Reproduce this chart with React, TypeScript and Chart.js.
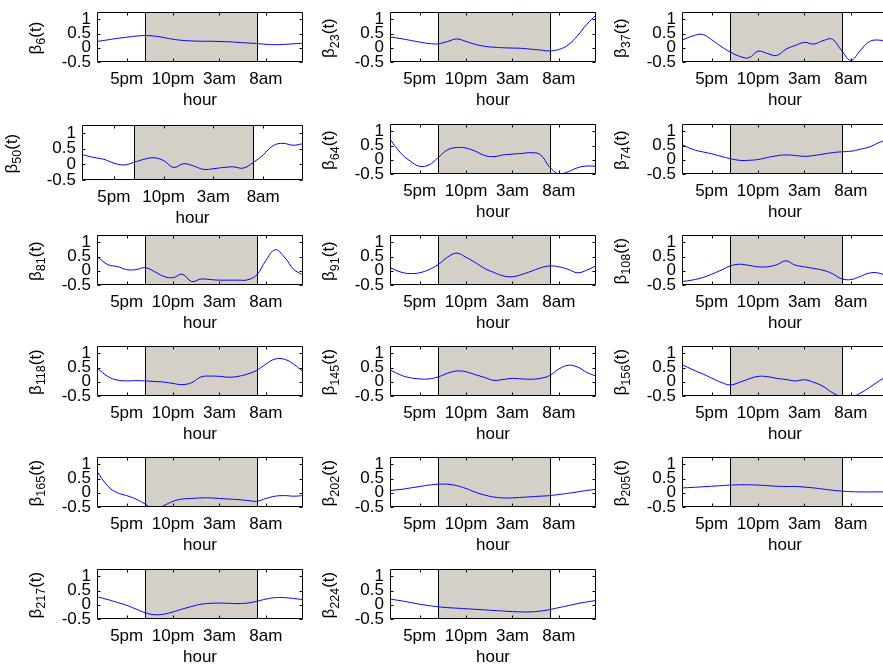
import React, { useEffect, useRef } from 'react';
import { Chart, registerables } from 'chart.js';

Chart.register(...registerables);

// ---------- data ----------
const HOURS = [13.8, 15, 16, 17, 18, 19, 20, 21, 22, 23, 24, 25, 26, 27, 28, 29, 30, 31, 32, 33, 34, 35, 36];
const X_TICKS = [17, 22, 27, 32];
const X_TICK_LABELS = ['5pm', '10pm', '3am', '8am'];
const Y_TICKS = [-0.5, 0, 0.5, 1];
const NIGHT = [19, 31];
const X_TITLE = 'hour';
const Y_SYMBOL = 'β';
const Y_ARG = '(t)';

const B6 = [0.22, 0.28, 0.33, 0.37, 0.41, 0.43, 0.41, 0.36, 0.30, 0.26, 0.24, 0.23, 0.23, 0.22, 0.21, 0.19, 0.17, 0.15, 0.12, 0.11, 0.12, 0.14, 0.16];
const B23 = [0.38, 0.32, 0.26, 0.20, 0.15, 0.14, 0.22, 0.31, 0.22, 0.12, 0.05, 0.02, 0.0, -0.01, -0.02, -0.05, -0.08, -0.11, -0.06, 0.10, 0.42, 0.82, 1.15];
const B37 = [0.27, 0.42, 0.47, 0.28, 0.05, -0.15, -0.30, -0.35, -0.12, -0.20, -0.27, -0.05, 0.08, 0.19, 0.13, 0.25, 0.30, -0.10, -0.44, -0.10, 0.22, 0.27, 0.20];
const B50 = [0.31, 0.22, 0.16, 0.04, -0.02, 0.06, 0.16, 0.21, 0.12, -0.10, 0.02, -0.05, -0.16, -0.14, -0.10, -0.08, -0.12, 0.06, 0.30, 0.60, 0.67, 0.61, 0.66];
const B64 = [0.72, 0.22, -0.05, -0.23, -0.18, 0.08, 0.35, 0.43, 0.41, 0.30, 0.15, 0.11, 0.17, 0.20, 0.22, 0.25, 0.18, -0.25, -0.50, -0.42, -0.28, -0.22, -0.23];
const B74 = [0.53, 0.36, 0.28, 0.21, 0.12, 0.04, -0.02, -0.02, 0.01, 0.08, 0.14, 0.17, 0.15, 0.12, 0.15, 0.20, 0.25, 0.28, 0.30, 0.37, 0.45, 0.60, 0.72];
const B81 = [0.50, 0.21, 0.15, 0.04, 0.04, 0.11, -0.03, -0.20, -0.24, -0.12, -0.38, -0.29, -0.31, -0.33, -0.33, -0.33, -0.32, -0.15, 0.36, 0.74, 0.48, 0.05, -0.15];
const B91 = [0.11, -0.05, -0.10, -0.07, 0.04, 0.22, 0.48, 0.62, 0.47, 0.29, 0.08, -0.06, -0.18, -0.21, -0.13, -0.02, 0.10, 0.17, 0.14, 0.05, -0.07, 0.02, 0.18];
const B108 = [-0.38, -0.32, -0.24, -0.12, 0.02, 0.17, 0.23, 0.19, 0.14, 0.14, 0.21, 0.35, 0.20, 0.14, 0.08, 0.02, -0.10, -0.28, -0.31, -0.20, -0.08, -0.08, -0.22];
const B118 = [0.48, 0.18, 0.06, 0.03, 0.04, 0.03, 0.01, -0.01, -0.06, -0.10, -0.03, 0.17, 0.20, 0.19, 0.16, 0.19, 0.27, 0.40, 0.62, 0.80, 0.79, 0.62, 0.35];
const B145 = [0.42, 0.23, 0.14, 0.10, 0.10, 0.17, 0.30, 0.38, 0.35, 0.25, 0.15, 0.05, 0.08, 0.12, 0.10, 0.09, 0.12, 0.22, 0.45, 0.58, 0.52, 0.33, 0.20];
const B156 = [0.60, 0.42, 0.28, 0.13, -0.02, -0.11, -0.02, 0.10, 0.19, 0.18, 0.12, 0.08, 0.03, 0.07, -0.02, -0.16, -0.38, -0.52, -0.54, -0.40, -0.20, 0.02, 0.22];
const B165 = [0.75, 0.22, 0.0, -0.10, -0.22, -0.40, -0.58, -0.45, -0.30, -0.22, -0.20, -0.18, -0.18, -0.20, -0.22, -0.24, -0.27, -0.30, -0.20, -0.12, -0.10, -0.12, -0.10];
const B202 = [0.08, 0.12, 0.17, 0.22, 0.27, 0.30, 0.30, 0.25, 0.15, 0.02, -0.08, -0.15, -0.18, -0.18, -0.16, -0.14, -0.12, -0.10, -0.06, -0.02, 0.03, 0.08, 0.12];
const B205 = [0.17, 0.19, 0.21, 0.23, 0.25, 0.27, 0.28, 0.28, 0.27, 0.25, 0.23, 0.22, 0.22, 0.20, 0.17, 0.13, 0.09, 0.06, 0.04, 0.03, 0.03, 0.03, 0.03];
const B217 = [0.28, 0.18, 0.08, -0.02, -0.15, -0.28, -0.35, -0.33, -0.25, -0.15, -0.06, 0.02, 0.05, 0.06, 0.05, 0.04, 0.06, 0.12, 0.20, 0.25, 0.25, 0.22, 0.18];
const B224 = [0.20, 0.14, 0.08, 0.02, -0.03, -0.07, -0.10, -0.12, -0.14, -0.16, -0.18, -0.20, -0.22, -0.24, -0.25, -0.25, -0.22, -0.17, -0.10, -0.03, 0.04, 0.10, 0.15];

const PANELS = [
  { sub: '6', values: B6, row: 0, col: 0 },
  { sub: '23', values: B23, row: 0, col: 1 },
  { sub: '37', values: B37, row: 0, col: 2 },
  { sub: '50', values: B50, row: 1, col: 0, special: true },
  { sub: '64', values: B64, row: 1, col: 1 },
  { sub: '74', values: B74, row: 1, col: 2 },
  { sub: '81', values: B81, row: 2, col: 0 },
  { sub: '91', values: B91, row: 2, col: 1 },
  { sub: '108', values: B108, row: 2, col: 2 },
  { sub: '118', values: B118, row: 3, col: 0 },
  { sub: '145', values: B145, row: 3, col: 1 },
  { sub: '156', values: B156, row: 3, col: 2 },
  { sub: '165', values: B165, row: 4, col: 0 },
  { sub: '202', values: B202, row: 4, col: 1 },
  { sub: '205', values: B205, row: 4, col: 2 },
  { sub: '217', values: B217, row: 5, col: 0 },
  { sub: '224', values: B224, row: 5, col: 1 },
];

// ---------- layout ----------
const FONT = "'Liberation Sans', Arial, 'DejaVu Sans', sans-serif";
const FONT_SIZE = 17;
const SUB_SIZE = 12.5;
const SUB_SHIFT = 6;
const COL_LEFT = [97, 390, 682];
const COL_CANVAS_LEFT = [0, 305, 598];
const COL_LABEL_X = [36, 329.5, 621];
const ROW_TOP = [10, 122, 233, 344, 455, 567];
const PLOT_W = 206;
const PLOT_H = 52;
const SPECIAL = { left: 82, top: 123, w: 221, h: 57, labelX: 12, canvasLeft: 0 };
const TOP_PAD = 14;
const RIGHT_PAD = 6;
const BOTTOM_PAD = 50;

const matlabAxes = {
  id: 'matlabAxes',
  beforeDatasetsDraw(chart: any) {
    const { ctx, chartArea: a, scales } = chart;
    const x = scales.x;
    const x0 = Math.round(x.getPixelForValue(NIGHT[0])) + 0.5;
    const x1 = Math.round(x.getPixelForValue(NIGHT[1])) + 0.5;
    ctx.save();
    ctx.fillStyle = '#d4d0c8';
    ctx.fillRect(x0, a.top, x1 - x0, a.bottom - a.top);
    ctx.strokeStyle = '#000';
    ctx.lineWidth = 1;
    ctx.beginPath();
    ctx.moveTo(x0, a.top);
    ctx.lineTo(x0, a.bottom);
    ctx.moveTo(x1, a.top);
    ctx.lineTo(x1, a.bottom);
    ctx.stroke();
    ctx.restore();
  },
  afterDatasetsDraw(chart: any) {
    const { ctx, chartArea: a, scales } = chart;
    const l = Math.round(a.left) + 0.5;
    const t = Math.round(a.top) + 0.5;
    const r = Math.round(a.right) - 0.5;
    const b = Math.round(a.bottom) - 0.5;
    const tl = 3;
    ctx.save();
    ctx.strokeStyle = '#000';
    ctx.lineWidth = 1;
    ctx.beginPath();
    ctx.rect(l, t, r - l, b - t);
    X_TICKS.forEach((v) => {
      const px = Math.round(scales.x.getPixelForValue(v)) + 0.5;
      ctx.moveTo(px, b);
      ctx.lineTo(px, b - tl);
      ctx.moveTo(px, t);
      ctx.lineTo(px, t + tl);
    });
    Y_TICKS.forEach((v) => {
      const py = Math.round(scales.y.getPixelForValue(v)) + 0.5;
      ctx.moveTo(l, py);
      ctx.lineTo(l + tl, py);
      ctx.moveTo(r, py);
      ctx.lineTo(r - tl, py);
    });
    ctx.stroke();
    ctx.restore();
  },
  afterDraw(chart: any, _args: any, opts: any) {
    // y-axis label with a real subscript: β_n(t)
    const { ctx, chartArea: a } = chart;
    const main = `${FONT_SIZE}px ${FONT}`;
    const small = `${SUB_SIZE}px ${FONT}`;
    ctx.save();
    ctx.font = main;
    const w1 = ctx.measureText(Y_SYMBOL).width;
    const w3 = ctx.measureText(Y_ARG).width;
    ctx.font = small;
    const w2 = ctx.measureText(opts.sub).width;
    const total = w1 + w2 + w3;
    const cy = (a.top + a.bottom) / 2 + 1;
    ctx.translate(opts.x, cy);
    ctx.rotate(-Math.PI / 2);
    ctx.fillStyle = '#000';
    ctx.textBaseline = 'middle';
    ctx.textAlign = 'left';
    let pos = -total / 2;
    ctx.font = main;
    ctx.fillText(Y_SYMBOL, pos, 0);
    pos += w1;
    ctx.font = small;
    ctx.fillText(opts.sub, pos, SUB_SHIFT);
    pos += w2;
    ctx.font = main;
    ctx.fillText(Y_ARG, pos, 0);
    ctx.restore();
  },
};

function Panel({ panel }: { panel: any }) {
  const ref = useRef<HTMLCanvasElement>(null);
  const geo = panel.special
    ? SPECIAL
    : {
        left: COL_LEFT[panel.col],
        top: ROW_TOP[panel.row],
        w: PLOT_W,
        h: PLOT_H,
        labelX: COL_LABEL_X[panel.col],
        canvasLeft: COL_CANVAS_LEFT[panel.col],
      };
  const lpad = geo.left - geo.canvasLeft;
  const cw = lpad + geo.w + RIGHT_PAD;
  const ch = TOP_PAD + geo.h + BOTTOM_PAD;
  const canvasTop = geo.top - TOP_PAD;

  useEffect(() => {
    const canvas = ref.current;
    if (!canvas) return;
    const chart = new Chart(canvas, {
      type: 'line',
      data: {
        datasets: [
          {
            label: Y_SYMBOL + panel.sub + Y_ARG,
            data: HOURS.map((h, i) => ({ x: h, y: panel.values[i] })),
            borderColor: 'rgb(0,0,255)',
            borderWidth: 1,
            pointRadius: 0,
            tension: 0.4,
            fill: false,
          },
        ],
      },
      options: {
        animation: false,
        responsive: false,
        devicePixelRatio: 1,
        events: [],
        layout: { padding: { top: TOP_PAD, right: RIGHT_PAD, left: 0, bottom: 0 } },
        plugins: {
          legend: { display: false },
          tooltip: { enabled: false },
          matlabAxes: { sub: panel.sub, x: geo.labelX - geo.canvasLeft },
        },
        scales: {
          x: {
            type: 'linear',
            min: 13.8,
            max: 36,
            grid: { display: false, drawTicks: false },
            border: { display: false },
            afterBuildTicks: (s: any) => {
              s.ticks = X_TICKS.map((v) => ({ value: v }));
            },
            afterFit: (s: any) => {
              s.height = BOTTOM_PAD;
            },
            ticks: {
              autoSkip: false,
              maxRotation: 0,
              padding: 7,
              color: '#000',
              font: { family: FONT, size: FONT_SIZE },
              callback: (v: any) => {
                const i = X_TICKS.indexOf(Number(v));
                return i >= 0 ? X_TICK_LABELS[i] : '';
              },
            },
            title: {
              display: true,
              text: X_TITLE,
              color: '#000',
              padding: 1.8,
              font: { family: FONT, size: FONT_SIZE },
            },
          },
          y: {
            type: 'linear',
            min: -0.5,
            max: 1.25,
            grid: { display: false, drawTicks: false },
            border: { display: false },
            afterBuildTicks: (s: any) => {
              s.ticks = Y_TICKS.map((v) => ({ value: v }));
            },
            afterFit: (s: any) => {
              s.width = lpad;
            },
            ticks: {
              autoSkip: false,
              padding: 6,
              color: '#000',
              font: { family: FONT, size: FONT_SIZE },
              callback: (v: any) => String(v),
            },
          },
        },
      },
      plugins: [matlabAxes],
    } as any);
    return () => chart.destroy();
  }, []);

  return (
    <canvas
      ref={ref}
      width={cw}
      height={ch}
      style={{ position: 'absolute', left: geo.canvasLeft, top: canvasTop, width: cw, height: ch }}
    />
  );
}

export default function App() {
  return (
    <div
      style={{
        position: 'fixed',
        left: 0,
        top: 0,
        width: 883,
        height: 669,
        overflow: 'hidden',
        background: '#fff',
      }}
    >
      {PANELS.map((p) => (
        <Panel key={p.sub} panel={p} />
      ))}
    </div>
  );
}
